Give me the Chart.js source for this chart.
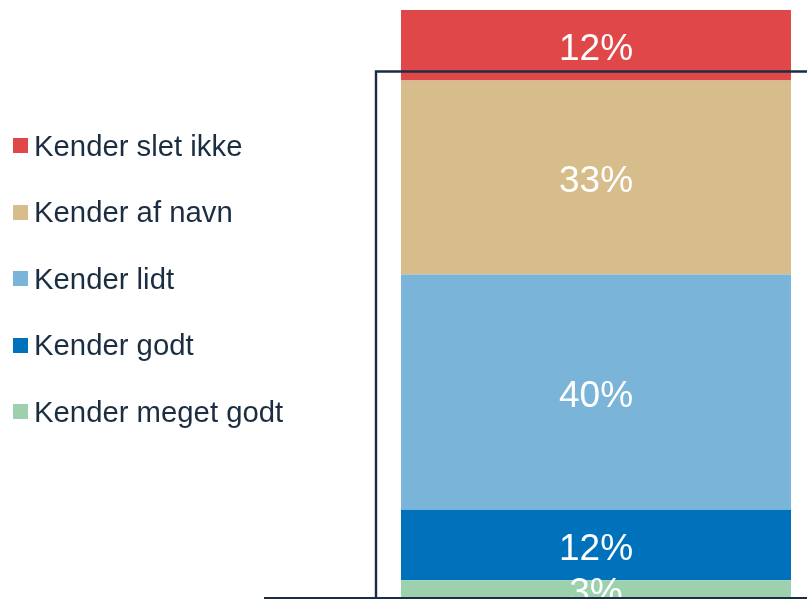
<!DOCTYPE html>
<html lang="da">
<head>
<meta charset="utf-8">
<title>Kendskab</title>
<script src="https://cdn.jsdelivr.net/npm/chart.js@4/dist/chart.umd.min.js"></script>
<style>
  html, body { margin: 0; padding: 0; background: #ffffff; overflow: hidden; }
  #wrap { position: relative; width: 807px; height: 599px; overflow: hidden; }
  #holder { position: absolute; left: 0; top: 0; width: 928px; height: 599px; }
  #legend { position: absolute; left: 13px; top: 0; font-family: "Liberation Sans", Arial, sans-serif; font-size: 29.3px; color: #1b2d40; }
  .item { position: absolute; left: 0; display: flex; align-items: center; white-space: nowrap; height: 30px; }
  .box { width: 15px; height: 15px; margin-right: 6px; flex: none; }
</style>
</head>
<body>
<div id="wrap">
  <div id="holder"><canvas id="chart" width="928" height="599"></canvas></div>
  <div id="legend"></div>
</div>
<script>
// Awareness levels, stacked bottom to top
const categories = [''];
const seriesLabels = ['Kender meget godt', 'Kender godt', 'Kender lidt', 'Kender af navn', 'Kender slet ikke'];
const seriesValues = [[3], [12], [40], [33], [12]];
const seriesColors = ['#9dd1ae', '#0072bc', '#7ab4d8', '#d6bd8b', '#e04749'];
const legendOrder = [4, 3, 2, 1, 0];

const FRAME_COLOR = '#1b2d40';

// Percentage labels centred in each segment
const segmentLabels = {
  id: 'segmentLabels',
  afterDatasetsDraw(chart) {
    const ctx = chart.ctx;
    const size = 37;
    ctx.save();
    ctx.fillStyle = '#ffffff';
    ctx.font = size + 'px "Liberation Sans", Arial, sans-serif';
    ctx.textAlign = 'center';
    ctx.textBaseline = 'alphabetic';
    chart.data.datasets.forEach((ds, i) => {
      chart.getDatasetMeta(i).data.forEach((bar, j) => {
        const p = bar.getProps(['x', 'y', 'base'], true);
        const mid = (p.y + p.base) / 2;
        ctx.fillText(ds.data[j] + '%', p.x, mid + size * 0.39);
      });
    });
    ctx.restore();
  }
};

// Baseline and the open frame around the bar
const frameLines = {
  id: 'frameLines',
  afterDraw(chart) {
    const ctx = chart.ctx;
    const a = chart.chartArea;
    const base = chart.scales.y.getPixelForValue(0);
    ctx.save();
    ctx.strokeStyle = FRAME_COLOR;
    ctx.lineWidth = 2;
    ctx.beginPath();
    ctx.moveTo(a.left, base);
    ctx.lineTo(a.right, base);
    ctx.stroke();
    ctx.lineWidth = 2.4;
    ctx.beginPath();
    ctx.moveTo(a.left + 112, base);
    ctx.lineTo(a.left + 112, a.top + 61.5);
    ctx.lineTo(a.right, a.top + 61.5);
    ctx.stroke();
    ctx.restore();
  }
};

new Chart(document.getElementById('chart'), {
  type: 'bar',
  data: {
    labels: categories,
    datasets: seriesLabels.map((label, i) => ({
      label: label,
      data: seriesValues[i],
      backgroundColor: seriesColors[i],
      borderWidth: 0,
      barPercentage: 0.5873,
      categoryPercentage: 1
    }))
  },
  options: {
    responsive: false,
    animation: false,
    devicePixelRatio: 1,
    layout: { padding: { left: 264, right: 0, top: 10, bottom: 1 } },
    scales: {
      x: { stacked: true, display: false },
      y: { stacked: true, display: false, min: 0, max: 100 }
    },
    plugins: {
      legend: { display: false },
      tooltip: { enabled: false }
    }
  },
  plugins: [segmentLabels, frameLines]
});

// Legend, top to bottom
const legend = document.getElementById('legend');
legendOrder.forEach((idx, k) => {
  const item = document.createElement('div');
  item.className = 'item';
  item.style.top = (130.5 + k * 66.5) + 'px';
  const box = document.createElement('span');
  box.className = 'box';
  box.style.background = seriesColors[idx];
  const txt = document.createElement('span');
  txt.textContent = seriesLabels[idx];
  item.appendChild(box);
  item.appendChild(txt);
  legend.appendChild(item);
});
</script>
</body>
</html>
